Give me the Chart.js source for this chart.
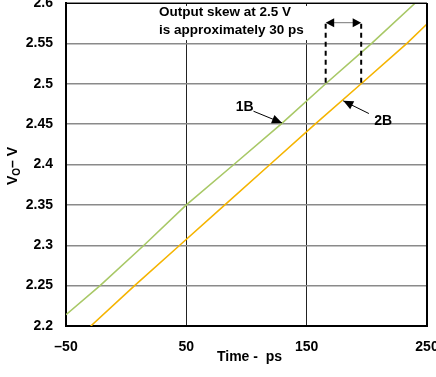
<!DOCTYPE html>
<html>
<head>
<meta charset="utf-8">
<script src="https://cdn.jsdelivr.net/npm/chart.js@4"></script>
<style>
  html, body { margin: 0; padding: 0; background: #fff; }
  #wrap { width: 436px; height: 377px; }
</style>
</head>
<body>
<div id="wrap"><canvas id="chart"></canvas></div>
<script>
// axis ticks
const xTicks = [-50, 50, 150, 250];
const xTickLabels = ["\u201350", "50", "150", "250"];
const yTicks = [2.2, 2.25, 2.3, 2.35, 2.4, 2.45, 2.5, 2.55, 2.6];
const yTickLabels = ["2.2", "2.25", "2.3", "2.35", "2.4", "2.45", "2.5", "2.55", "2.6"];

// output 1B (green)
const time1B = [-50, -21.7, 14.8, 50, 89.5, 128.7, 165.8, 204, 240.3];
const vo1B = [2.214, 2.25, 2.3, 2.35, 2.4, 2.45, 2.5, 2.55, 2.6];

// output 2B (orange)
const time2B = [-29.4, 7, 44.5, 82, 119.5, 157, 195.3, 233.3, 250];
const vo2B = [2.2, 2.25, 2.3, 2.35, 2.4, 2.45, 2.5, 2.55, 2.574];

// skew marker at 2.5 V
const skewTimes = [165.8, 195.3];
const skewLevel = 2.5;
const skewArrowLevel = 2.5756;

const noteLines = ["Output skew at 2.5 V", "is approximately 30 ps"];
const notePos = { t: 27.3, v: [2.5833, 2.5615] };
const label1B = { text: "1B", t: 98.5, v: 2.4665, fromT: 105.8, fromV: 2.466, toT: 129.5, toV: 2.4515 };
const label2B = { text: "2B", t: 213.5, v: 2.4484, fromT: 201.7, fromV: 2.4631, toT: 180.4, toV: 2.4788 };

const FONT = "Arial, 'Liberation Sans', sans-serif";

function arrowHead(ctx, fx, fy, tx, ty, len, half) {
  const a = Math.atan2(ty - fy, tx - fx);
  ctx.beginPath();
  ctx.moveTo(tx, ty);
  ctx.lineTo(tx - len * Math.cos(a) + half * Math.sin(a), ty - len * Math.sin(a) - half * Math.cos(a));
  ctx.lineTo(tx - len * Math.cos(a) - half * Math.sin(a), ty - len * Math.sin(a) + half * Math.cos(a));
  ctx.closePath();
  ctx.fill();
}

const decorations = {
  id: "decorations",
  afterDatasetsDraw(chart) {
    const ctx = chart.ctx;
    const xs = chart.scales.x, ys = chart.scales.y;
    const area = chart.chartArea;
    const px = t => xs.getPixelForValue(t);
    const py = v => ys.getPixelForValue(v);
    ctx.save();

    // top and right frame
    ctx.strokeStyle = "#000";
    ctx.lineWidth = 1;
    ctx.beginPath();
    ctx.moveTo(area.left, area.top + 0.5);
    ctx.lineTo(area.right, area.top + 0.5);
    ctx.stroke();
    ctx.lineWidth = 2;
    ctx.beginPath();
    ctx.moveTo(area.right, area.top);
    ctx.lineTo(area.right, area.bottom);
    ctx.stroke();

    // note text on white box
    ctx.font = "bold 13.5px " + FONT;
    ctx.textBaseline = "alphabetic";
    ctx.textAlign = "left";
    const w = Math.max(...noteLines.map(s => ctx.measureText(s).width));
    const nx = px(notePos.t);
    ctx.fillStyle = "#fff";
    ctx.fillRect(nx - 4, area.top + 3, w + 8, py(notePos.v[1]) + 6 - area.top - 3);
    ctx.fillStyle = "#000";
    noteLines.forEach((s, i) => ctx.fillText(s, nx, py(notePos.v[i])));

    // dashed skew lines
    const x1 = px(skewTimes[0]), x2 = px(skewTimes[1]);
    const yA = py(skewArrowLevel), yL = py(skewLevel);
    ctx.strokeStyle = "#000";
    ctx.lineWidth = 2;
    ctx.setLineDash([5, 4]);
    [x1, x2].forEach(x => {
      ctx.beginPath();
      ctx.moveTo(x, yA + 1);
      ctx.lineTo(x, yL);
      ctx.stroke();
    });
    ctx.setLineDash([]);
    ctx.strokeStyle = "#777";
    ctx.lineWidth = 1;
    ctx.beginPath();
    ctx.moveTo(x1 + 6, yA);
    ctx.lineTo(x2 - 6, yA);
    ctx.stroke();
    ctx.fillStyle = "#000";
    arrowHead(ctx, x2, yA, x1, yA, 8.5, 4.5);
    arrowHead(ctx, x1, yA, x2, yA, 8.5, 4.5);

    // 1B / 2B labels with arrows
    ctx.font = "bold 14px " + FONT;
    ctx.textAlign = "center";
    [label1B, label2B].forEach(l => {
      ctx.fillStyle = "#000";
      ctx.fillText(l.text, px(l.t), py(l.v));
      const fx = px(l.fromT), fy = py(l.fromV), tx = px(l.toT), ty = py(l.toV);
      ctx.strokeStyle = "#000";
      ctx.lineWidth = 1;
      ctx.beginPath();
      ctx.moveTo(fx, fy);
      ctx.lineTo(tx, ty);
      ctx.stroke();
      arrowHead(ctx, fx, fy, tx, ty, 10, 4.5);
    });

    // axis titles
    ctx.textAlign = "center";
    ctx.font = "bold 14px " + FONT;
    ctx.fillText("Time -  ps", (area.left + area.right) / 2 + 3, 361);

    ctx.translate(17, 166);
    ctx.rotate(-Math.PI / 2);
    ctx.textAlign = "left";
    const big = "bold 14px " + FONT, small = "bold 10px " + FONT;
    ctx.font = big;
    const wV = ctx.measureText("V").width;
    const wRest = ctx.measureText("\u2013 V").width;
    ctx.font = small;
    const wO = ctx.measureText("O").width;
    let x = -(wV + wO + wRest) / 2;
    ctx.font = big;
    ctx.fillText("V", x, 0);
    x += wV;
    ctx.font = small;
    ctx.fillText("O", x, 3);
    x += wO;
    ctx.font = big;
    ctx.fillText("\u2013 V", x, 0);
    ctx.restore();
  }
};

new Chart(document.getElementById("chart").getContext("2d"), {
  type: "line",
  data: {
    datasets: [
      {
        label: "1B",
        data: time1B.map((t, i) => ({ x: t, y: vo1B[i] })),
        borderColor: "#a8c866",
        borderWidth: 1.6,
        pointRadius: 0,
        fill: false,
      },
      {
        label: "2B",
        data: time2B.map((t, i) => ({ x: t, y: vo2B[i] })),
        borderColor: "#f5b400",
        borderWidth: 1.6,
        pointRadius: 0,
        fill: false,
      },
    ],
  },
  options: {
    responsive: true,
    maintainAspectRatio: false,
    animation: false,
    layout: { padding: { top: 3, right: 9, left: 0, bottom: 0 } },
    plugins: { legend: { display: false }, tooltip: { enabled: false } },
    scales: {
      x: {
        type: "linear",
        min: -50,
        max: 250,
        afterBuildTicks: s => { s.ticks = xTicks.map(v => ({ value: v })); },
        afterFit: s => { s.height = 51; s.paddingLeft = 0; s.paddingRight = 0; },
        ticks: {
          callback: (v, i) => xTickLabels[i],
          color: "#000",
          font: { family: FONT, size: 14, weight: "bold" },
          padding: 13,
          maxRotation: 0,
          autoSkip: false,
        },
        grid: { color: "#222", lineWidth: 1, drawTicks: false },
        border: { color: "#000", width: 2 },
      },
      y: {
        min: 2.2,
        max: 2.6,
        afterBuildTicks: s => { s.ticks = yTicks.map(v => ({ value: v })); },
        afterFit: s => { s.width = 66; s.paddingTop = 0; s.paddingBottom = 0; },
        ticks: {
          callback: (v, i) => yTickLabels[i],
          color: "#000",
          font: { family: FONT, size: 14, weight: "bold" },
          padding: 13,
          autoSkip: false,
        },
        grid: { color: "#8a8a8a", lineWidth: 1.5, drawTicks: false },
        border: { color: "#000", width: 2 },
      },
    },
  },
  plugins: [decorations],
});
</script>
</body>
</html>
